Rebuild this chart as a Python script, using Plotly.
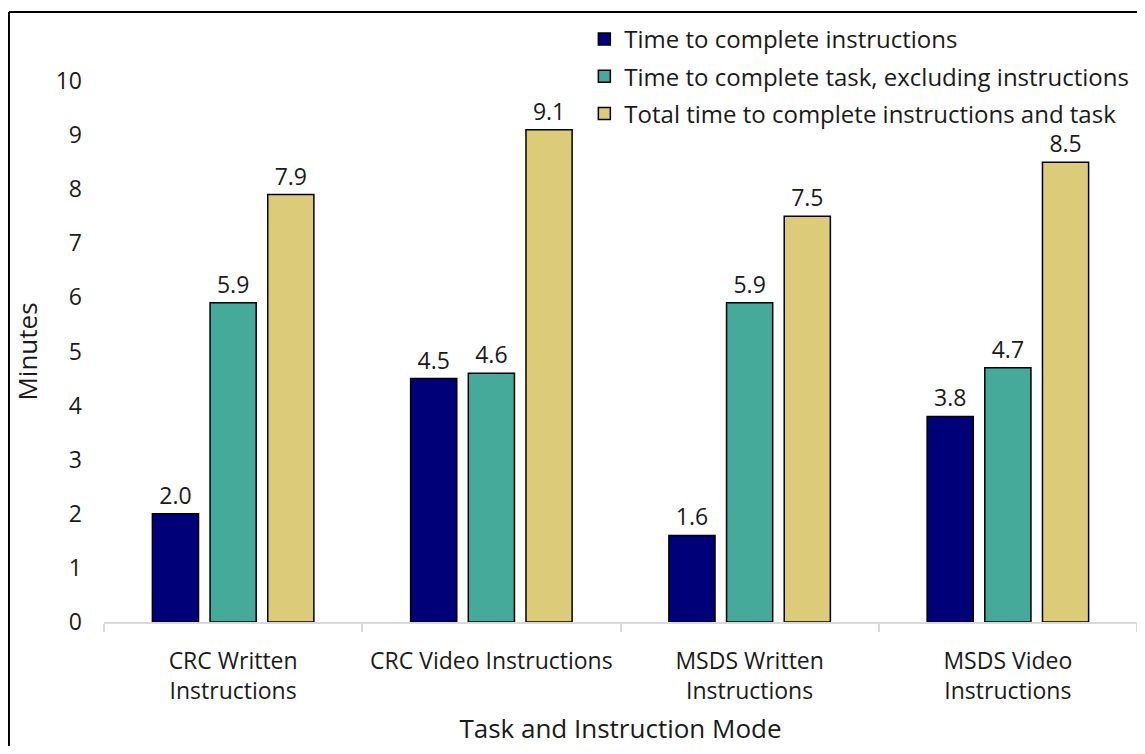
import plotly.graph_objects as go

categories = ["CRC Written<br>Instructions", "CRC Video Instructions",
              "MSDS Written<br>Instructions", "MSDS Video<br>Instructions"]
series_names = ["Time to complete instructions",
                "Time to complete task, excluding instructions",
                "Total time to complete instructions and task"]
instr_time = [2.0, 4.5, 1.6, 3.8]
task_time = [5.9, 4.6, 5.9, 4.7]
total_time = [7.9, 9.1, 7.5, 8.5]
y_ticks = list(range(0, 11))

colors = ["#000078", "#45AA99", "#DCCB79"]
FONT = "Open Sans"
TXT = "#1a1a1a"

fig = go.Figure()
for i, (name, vals) in enumerate(zip(series_names, [instr_time, task_time, total_time])):
    fig.add_trace(go.Bar(
        x=categories, y=vals, name=name,
        marker=dict(color=colors[i], line=dict(color="#000000", width=1.5)),
        text=[f"{v:.1f}" for v in vals], textposition="outside",
        textfont=dict(family=FONT, size=23, color=TXT),
        cliponaxis=False, legendgroup=f"g{i}",
    ))

fig.update_layout(
    width=1129, height=738,
    margin=dict(l=96, r=0, t=73, b=124, autoexpand=False),
    paper_bgcolor="white", plot_bgcolor="white",
    font=dict(family=FONT, size=23, color=TXT),
    barmode="group", bargap=0.33, bargroupgap=0.2,
    showlegend=True,
    legend=dict(x=0.465, y=1.1185, xanchor="left", yanchor="top",
                font=dict(family=FONT, size=24, color=TXT),
                traceorder="grouped", tracegroupgap=3,
                bgcolor="rgba(0,0,0,0)", itemwidth=30),
    xaxis=dict(showline=True, linecolor="#D9D9D9", linewidth=2,
               ticks="outside", tickson="boundaries", ticklen=8,
               tickcolor="#D9D9D9", tickwidth=2, showgrid=False,
               tickangle=0, ticklabelstandoff=17,
               tickfont=dict(family=FONT, size=23, color=TXT),
               title=dict(text="Task and Instruction Mode", standoff=18,
                          font=dict(family=FONT, size=26, color=TXT))),
    yaxis=dict(range=[0, 10], tickvals=y_ticks, showgrid=False, zeroline=False,
               showline=False, ticks="", ticklabelstandoff=21,
               tickfont=dict(family=FONT, size=23, color=TXT),
               title=dict(text="Minutes", standoff=10,
                          font=dict(family=FONT, size=26, color=TXT))),
    shapes=[
        dict(type="line", xref="paper", yref="paper", x0=-0.0920, x1=1.01,
             y0=1.1275, y1=1.1275, line=dict(color="black", width=2)),
        dict(type="line", xref="paper", yref="paper", x0=-0.0920, x1=-0.0920,
             y0=1.1275, y1=-0.3, line=dict(color="black", width=2)),
    ],
)

fig.write_html("out.html")
